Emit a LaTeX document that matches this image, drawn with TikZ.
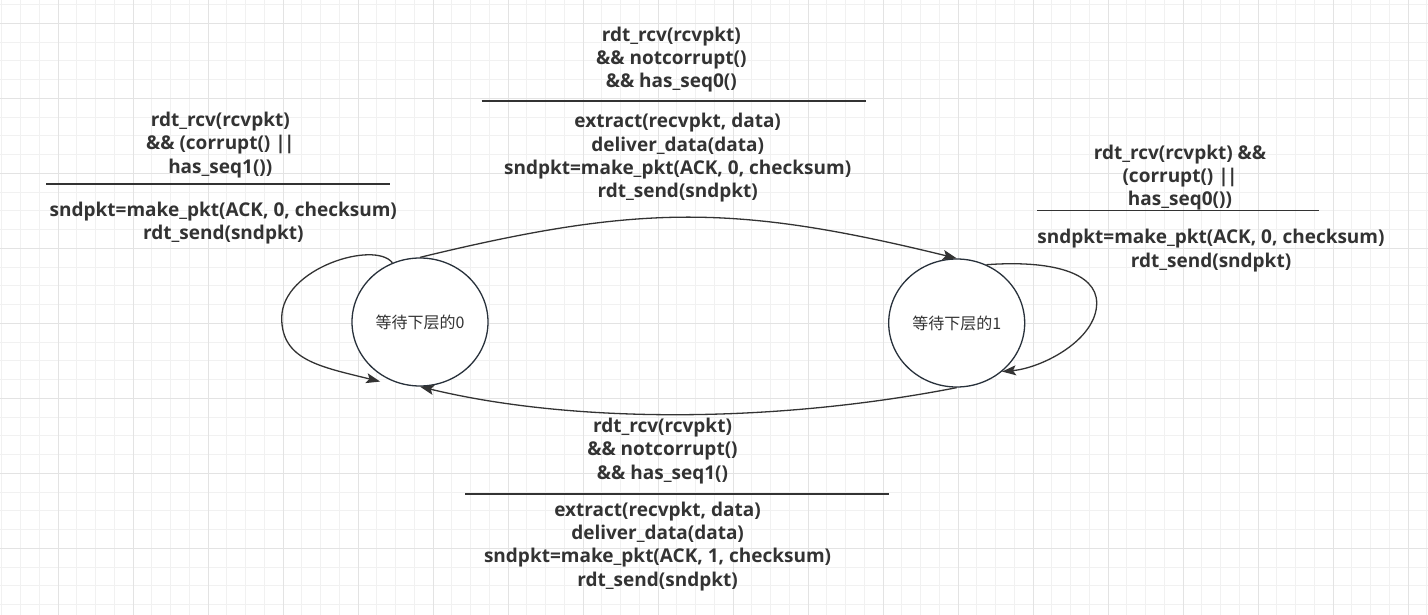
\documentclass[tikz,border=0pt]{standalone}
\usepackage{fontspec}
\setmainfont{Open Sans}
\newfontfamily\cjk{Noto Sans CJK SC}
\usetikzlibrary{shapes.geometric,arrows.meta}
\definecolor{ink}{HTML}{333333}
\definecolor{edge}{HTML}{28313B}
\definecolor{gridminor}{HTML}{F1F1F1}
\definecolor{gridmajor}{HTML}{E3E3E3}
\newcommand{\orbars}{|\kern-1.8pt|}
\begin{document}
\begin{tikzpicture}[x=1pt,y=-1pt,
  stateE/.style={ellipse, draw=edge, line width=1.3pt, fill=white, minimum width=136pt, minimum height=128pt, inner sep=0pt, font=\cjk\fontsize{16}{19}\selectfont, text=ink},
  lbl/.style={align=center, inner sep=0pt, text=ink, font=\bfseries\fontsize{19}{23.3}\selectfont},
  rulerline/.style={draw=ink, line width=1.4pt},
  conn/.style={draw=ink, line width=1.3pt, -{Stealth[length=14pt,width=10pt,inset=3pt]}},
  gminor/.style={draw=gridminor, line width=1pt},
  gmajor/.style={draw=gridmajor, line width=1pt}]
\fill[white] (0,0) rectangle (1428,615);
\useasboundingbox (0,0) rectangle (1428,615);
% grid
\foreach \i in {0,...,76} {\draw[gminor] ({1.75+18.75*\i},0) -- ({1.75+18.75*\i},615);}
\foreach \j in {0,...,32} {\draw[gminor] (0,{4.55+18.75*\j}) -- (1428,{4.55+18.75*\j});}
\foreach \i in {0,...,18} {\draw[gmajor] ({58+75*\i},0) -- ({58+75*\i},615);}
\foreach \j in {0,...,7} {\draw[gmajor] (0,{23.3+75*\j}) -- (1428,{23.3+75*\j});}

% states
\node[stateE] (s0) at (420,322) {等待下层的0};
\node[stateE] (s1) at (956.7,323) {等待下层的1};

% connectors
\draw[conn] (s0.north) .. controls (640,204) and (735,204) .. (s1.north);
\draw[conn] (s1.south) .. controls (770,424) and (570,423) .. (s0.south);
\draw[conn] (s0.115) .. controls (375,240) and (281.7,268) .. (281.7,318)
  .. controls (281.7,360) and (320,366.7) .. ([shift={(-3,5)}]s0.236);
\draw[conn] (s1.63) .. controls (1050,260) and (1096.7,272) .. (1096.7,303)
  .. controls (1096.7,340) and (1042,368) .. (s1.-47.6);

% top label
\node[lbl] (t0a) at (671.3,59.7) {rdt\_rcv(rcvpkt)\\\&\& notcorrupt()\\\&\& has\_seq0()};
\coordinate (t0l) at (481.7,101);
\coordinate (t0r) at (866,101);
\draw[rulerline] (t0l) -- (t0r);
\node[lbl] (t0b) at (677.7,158) {extract(recvpkt, data)\\deliver\_data(data)\\sndpkt=make\_pkt(ACK, 0, checksum)\\rdt\_send(sndpkt)};

% left label
\node[lbl] (t1a) at (220.3,145) {rdt\_rcv(rcvpkt)\\\&\& (corrupt() \orbars\\has\_seq1())};
\coordinate (t1l) at (46,184);
\coordinate (t1r) at (390,184);
\draw[rulerline] (t1l) -- (t1r);
\node[lbl] (t1b) at (223.3,223.3) {sndpkt=make\_pkt(ACK, 0, checksum)\\rdt\_send(sndpkt)};

% right label
\node[lbl] (t2a) at (1180,177.5) {rdt\_rcv(rcvpkt) \&\&\\(corrupt() \orbars\\has\_seq0())};
\coordinate (t2l) at (1037,210.7);
\coordinate (t2r) at (1319,210.7);
\draw[rulerline] (t2l) -- (t2r);
\node[lbl] (t2b) at (1211,250.5) {sndpkt=make\_pkt(ACK, 0, checksum)\\rdt\_send(sndpkt)};

% bottom label
\node[lbl] (t3a) at (662.5,450.8) {rdt\_rcv(rcvpkt)\\\&\& notcorrupt()\\\&\& has\_seq1()};
\coordinate (t3l) at (465,494);
\coordinate (t3r) at (889.3,494);
\draw[rulerline] (t3l) -- (t3r);
\node[lbl] (t3b) at (657.6,546.3) {extract(recvpkt, data)\\deliver\_data(data)\\sndpkt=make\_pkt(ACK, 1, checksum)\\rdt\_send(sndpkt)};
\end{tikzpicture}
\end{document}
